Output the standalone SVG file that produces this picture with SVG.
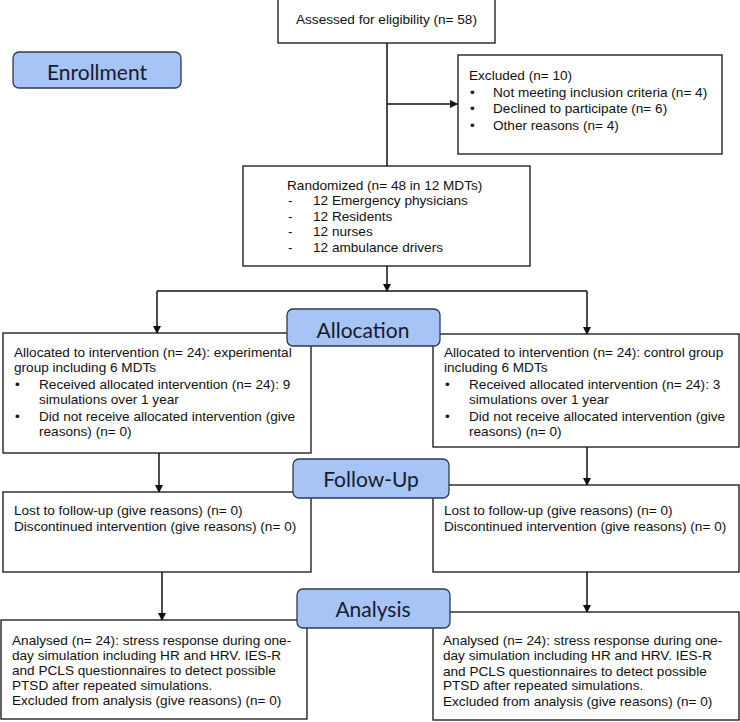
<svg xmlns="http://www.w3.org/2000/svg" width="740" height="722" viewBox="0 0 740 722">
<style>
.box{fill:#fff;stroke:#111;stroke-width:1.3}
.lab{fill:#a6c4f6;stroke:#2c3a4c;stroke-width:1.3}
.t{font-family:"Liberation Sans",Arial,sans-serif;font-size:13.6px;fill:#111}
.lt{font-family:Lato,"Open Sans",sans-serif;font-size:21px;fill:#1a1a2a;text-anchor:middle}
.c{stroke:#111;stroke-width:1.5;fill:none}
</style>
<defs>
<marker id="ah" markerWidth="8" markerHeight="8" refX="7" refY="4" orient="auto" markerUnits="userSpaceOnUse">
<path d="M0,0 L8,4 L0,8 Z" fill="#111"/>
</marker>
</defs>
<rect width="740" height="722" fill="#fff"/>
<g id="connectors">
<line class="c" x1="387" y1="43" x2="387" y2="166"/>
<line class="c" x1="387" y1="104" x2="457" y2="104" marker-end="url(#ah)"/>
<line class="c" x1="387" y1="266" x2="387" y2="291" marker-end="url(#ah)"/>
<line class="c" x1="157" y1="291" x2="587" y2="291"/>
<line class="c" x1="157" y1="291" x2="157" y2="333" marker-end="url(#ah)"/>
<line class="c" x1="587" y1="291" x2="587" y2="334" marker-end="url(#ah)"/>
<line class="c" x1="159" y1="453" x2="159" y2="492" marker-end="url(#ah)"/>
<line class="c" x1="587" y1="447" x2="587" y2="485" marker-end="url(#ah)"/>
<line class="c" x1="162" y1="572" x2="162" y2="620" marker-end="url(#ah)"/>
<line class="c" x1="587" y1="572" x2="587" y2="612" marker-end="url(#ah)"/>
</g>
<g id="assessed">
<rect class="box" x="278" y="-1" width="217" height="44"/>
<text class="t" x="296" y="24">Assessed for eligibility (n= 58)</text>
</g>
<g id="excluded">
<rect class="box" x="458" y="55" width="264" height="99"/>
<text class="t" x="469" y="80">Excluded (n= 10)</text>
<text class="t" x="470" y="97">•</text><text class="t" x="493" y="97">Not meeting inclusion criteria (n= 4)</text>
<text class="t" x="470" y="113">•</text><text class="t" x="493" y="113">Declined to participate (n= 6)</text>
<text class="t" x="470" y="130">•</text><text class="t" x="493" y="130">Other reasons (n= 4)</text>
</g>
<g id="randomized">
<rect class="box" x="243" y="166" width="287" height="100"/>
<text class="t" x="287" y="190">Randomized (n= 48 in 12 MDTs)</text>
<text class="t" x="288" y="205">-</text><text class="t" x="313" y="205">12 Emergency physicians</text>
<text class="t" x="288" y="221">-</text><text class="t" x="313" y="221">12 Residents</text>
<text class="t" x="288" y="236">-</text><text class="t" x="313" y="236">12 nurses</text>
<text class="t" x="288" y="252">-</text><text class="t" x="313" y="252">12 ambulance drivers</text>
</g>
<g id="alloc-left">
<rect class="box" x="3" y="333" width="308" height="120"/>
<text class="t" x="14" y="357">Allocated to intervention (n= 24): experimental</text>
<text class="t" x="14" y="372">group including 6 MDTs</text>
<text class="t" x="15" y="389">•</text><text class="t" x="39" y="389">Received allocated intervention (n= 24): 9</text>
<text class="t" x="39" y="404">simulations over 1 year</text>
<text class="t" x="15" y="421">•</text><text class="t" x="39" y="421">Did not receive allocated intervention (give</text>
<text class="t" x="39" y="436">reasons) (n= 0)</text>
</g>
<g id="alloc-right">
<rect class="box" x="433" y="334" width="306" height="113"/>
<text class="t" x="444" y="357">Allocated to intervention (n= 24): control group</text>
<text class="t" x="444" y="372">including 6 MDTs</text>
<text class="t" x="445" y="389">•</text><text class="t" x="469" y="389">Received allocated intervention (n= 24): 3</text>
<text class="t" x="469" y="404">simulations over 1 year</text>
<text class="t" x="445" y="421">•</text><text class="t" x="469" y="421">Did not receive allocated intervention (give</text>
<text class="t" x="469" y="436">reasons) (n= 0)</text>
</g>
<g id="follow-left">
<rect class="box" x="3" y="492" width="308" height="80"/>
<text class="t" x="14" y="515">Lost to follow-up (give reasons) (n= 0)</text>
<text class="t" x="14" y="531">Discontinued intervention (give reasons) (n= 0)</text>
</g>
<g id="follow-right">
<rect class="box" x="433" y="485" width="306" height="87"/>
<text class="t" x="444" y="515">Lost to follow-up (give reasons) (n= 0)</text>
<text class="t" x="444" y="531">Discontinued intervention (give reasons) (n= 0)</text>
</g>
<g id="analysis-left">
<rect class="box" x="1" y="620" width="306" height="99"/>
<text class="t" x="12" y="645">Analysed (n= 24): stress response during one-</text>
<text class="t" x="12" y="660">day simulation including HR and HRV. IES-R</text>
<text class="t" x="12" y="675">and PCLS questionnaires to detect possible</text>
<text class="t" x="12" y="690">PTSD after repeated simulations.</text>
<text class="t" x="12" y="705">Excluded from analysis (give reasons) (n= 0)</text>
</g>
<g id="analysis-right">
<rect class="box" x="433" y="612" width="306" height="108"/>
<text class="t" x="443" y="645">Analysed (n= 24): stress response during one-</text>
<text class="t" x="443" y="660">day simulation including HR and HRV. IES-R</text>
<text class="t" x="443" y="676">and PCLS questionnaires to detect possible</text>
<text class="t" x="443" y="690">PTSD after repeated simulations.</text>
<text class="t" x="443" y="706">Excluded from analysis (give reasons) (n= 0)</text>
</g>
<g id="label-enrollment">
<rect class="lab" x="13" y="52" width="168" height="36" rx="6"/>
<text class="lt" x="97" y="80">Enrollment</text>
</g>
<g id="label-allocation">
<rect class="lab" x="287" y="309" width="153" height="37" rx="6"/>
<text class="lt" x="363" y="338">Allocation</text>
</g>
<g id="label-followup">
<rect class="lab" x="293" y="459" width="156" height="39" rx="6"/>
<text class="lt" x="371" y="487">Follow-Up</text>
</g>
<g id="label-analysis">
<rect class="lab" x="297" y="589" width="153" height="39" rx="6"/>
<text class="lt" x="373" y="617">Analysis</text>
</g>
</svg>
